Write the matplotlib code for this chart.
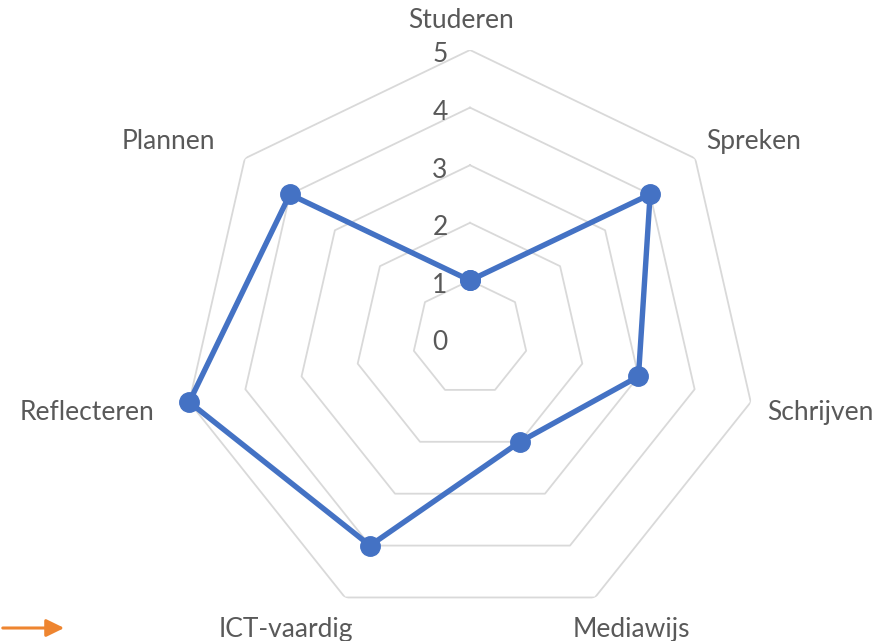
import matplotlib.pyplot as plt
import matplotlib.patches as mpatches
import numpy as np

categories = ['Studeren', 'Spreken', 'Schrijven', 'Mediawijs', 'ICT-vaardig', 'Reflecteren', 'Plannen']
scores = [1, 4, 3, 2, 4, 5, 4]
rings = [1, 2, 3, 4, 5]
ring_labels = ['0', '1', '2', '3', '4', '5']

plt.rcParams['font.family'] = ['Lato', 'DejaVu Sans']
text_color = '#595959'

n = len(categories)
angles = np.linspace(0, 2 * np.pi, n, endpoint=False)
closed = np.append(angles, angles[0])

fig = plt.figure(figsize=(8.76, 6.41), dpi=100)
# centre of the web at about (470, 338) px, outer ring radius 288 px
ax = fig.add_axes([182 / 876, 15 / 641, 576 / 876, 576 / 641], projection='polar')
ax.set_theta_offset(np.pi / 2)
ax.set_theta_direction(-1)
ax.set_ylim(0, 5)
ax.grid(False)
ax.set_xticks([])
ax.set_yticks([])
ax.spines['polar'].set_visible(False)

# heptagon gridlines
for r in rings:
    ax.plot(closed, [r] * (n + 1), color='#d9d9d9', lw=1.3, zorder=1)

# radial value labels just left of the top axis
for i, lab in enumerate(ring_labels):
    ax.annotate(lab, xy=(0, i), xytext=(-30, -5), textcoords='offset pixels',
                ha='center', va='center', fontsize=19, color=text_color)

# category labels around the outside, shifted out by part of their width
anns = []
for ang, lab in zip(angles, categories):
    a = ax.annotate(lab, xy=(ang, 5), xytext=(0, 0), textcoords='offset pixels',
                    ha='center', va='center', fontsize=19, color=text_color,
                    annotation_clip=False)
    anns.append((ang, a))

fig.canvas.draw()
for ang, a in anns:
    w = a.get_window_extent().width
    s, c = np.sin(ang), np.cos(ang)
    ox = 26 * s + w / 2 * np.sign(s) * min(1, abs(s) / 0.75) - 9
    oy = 32 * c - 3
    a.xyann = (ox, oy)

vals = scores + [scores[0]]
ax.plot(closed, vals, color='#4472C4', lw=3.9, marker='o', ms=14, zorder=3,
        clip_on=False)

# orange arrow bottom-left
arrow = mpatches.FancyArrowPatch((0, 1 - 628 / 641), (67 / 876, 1 - 628 / 641),
                                 transform=fig.transFigure,
                                 arrowstyle='-|>,head_length=0.45,head_width=0.22',
                                 mutation_scale=24, color='#EE8530', lw=2.2)
fig.add_artist(arrow)

fig.savefig('out.png', dpi=100)
